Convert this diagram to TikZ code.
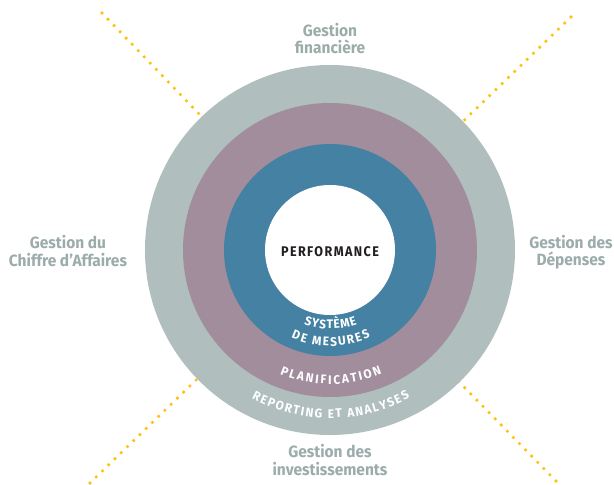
\documentclass[tikz,border=0pt]{standalone}
\usepackage{fontspec}
\setmainfont{Fira Sans}
\newfontfamily\labfont[FakeStretch=0.95]{Fira Sans}
\newfontfamily\ringfont[FakeStretch=0.95]{Fira Sans}
\newfontfamily\perffont[FakeStretch=0.9,LetterSpace=10]{Fira Sans}
\usetikzlibrary{decorations.text}
\definecolor{outerc}{RGB}{176,191,190}
\definecolor{mauvec}{RGB}{161,141,156}
\definecolor{bluec}{RGB}{68,129,162}
\definecolor{labc}{RGB}{155,172,170}
\definecolor{dotc}{RGB}{255,194,14}
\definecolor{perfc}{RGB}{35,31,32}
\tikzset{
  dotline/.style={draw=dotc, line width=3.6pt, line cap=round, dash pattern=on 0pt off 8.7pt},
  ring/.style={circle, inner sep=0pt, outer sep=0pt, draw=none},
  lab/.style={font=\labfont\bfseries\fontsize{16.3}{17.5}\selectfont, text=labc, align=center, inner sep=0pt},
  ringtext/.style 2 args={decorate, decoration={text along path, text color=white, text align=center, text={|\ringfont\bfseries\fontsize{12.5}{14}\selectfont\kern#1pt|#2}}}
}
\begin{document}
\begin{tikzpicture}[x=1pt,y=1pt]
\useasboundingbox (-330,-235) rectangle (284,250);
\fill[white] (-330,-235) rectangle (284,250);
\coordinate (c) at (0,0);
\coordinate (tl) at (-228,237);
\coordinate (tr) at (241,233);
\coordinate (bl) at (-240,-233);
\coordinate (br) at (226,-231);
\draw[dotline] (tl) -- (c);
\draw[dotline] (tr) -- (c);
\draw[dotline] (bl) -- (c);
\draw[dotline] (br) -- (c);
\node[ring, fill=outerc, minimum size=370pt] (outer) at (c) {};
\node[ring, fill=mauvec, minimum size=294pt] (plan) at (c) {};
\node[ring, fill=bluec, minimum size=212pt] (sys) at (c) {};
\node[ring, fill=white, minimum size=130pt] (core) at (c) {};
\node[font=\perffont\bfseries\fontsize{14}{15}\selectfont, text=perfc, inner sep=0pt] (perf) at (0,-2) {PERFORMANCE};
\path[ringtext={0.9}{SYSTÈME}] (200:79) arc[start angle=200, end angle=340, radius=79];
\path[ringtext={1.6}{DE MESURES}] (200:96) arc[start angle=200, end angle=340, radius=96];
\path[ringtext={2.0}{PLANIFICATION}] (200:134) arc[start angle=200, end angle=340, radius=134];
\path[ringtext={1.5}{REPORTING ET ANALYSES}] (200:168) arc[start angle=200, end angle=340, radius=168];
\node[lab] (gf) at (0,211.5) {Gestion\\financière};
\node[lab] (gi) at (0,-210) {Gestion des\\investissements};
\node[lab] (gca) at (-262,-1) {Gestion du\\Chiffre d’Affaires};
\node[lab] (gd) at (241,-2) {Gestion des\\Dépenses};
\end{tikzpicture}
\end{document}
